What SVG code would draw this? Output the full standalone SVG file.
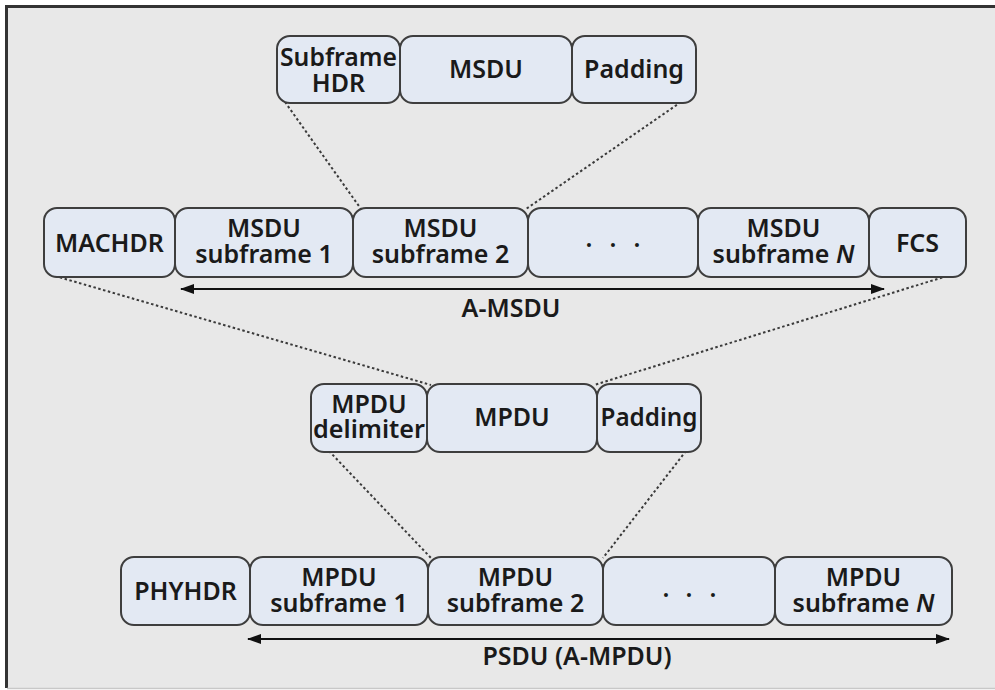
<svg xmlns="http://www.w3.org/2000/svg" width="995" height="690" viewBox="0 0 995 690">
<defs>
<style>
.bg{fill:#e8e8e8}
.box{fill:#e3e9f3;stroke:#3e3e3e;stroke-width:2}
.t{font-family:"Noto Sans","Liberation Sans",sans-serif;font-size:25px;font-weight:600;fill:#1a1a1a;text-anchor:middle}
.dot{stroke:#3a3a3a;stroke-width:2;stroke-dasharray:2.5 2.5;fill:none}
.arr{stroke:#111;stroke-width:2.2;fill:none;marker-start:url(#ah);marker-end:url(#ah)}
</style>
<marker id="ah" viewBox="0 0 14 10" refX="13" refY="5" markerWidth="14" markerHeight="10" markerUnits="userSpaceOnUse" orient="auto-start-reverse">
<path d="M0,0 L14,5 L0,10 Z" fill="#111"/>
</marker>
</defs>
<rect class="bg" x="7" y="7" width="990" height="681"/>
<line x1="7" y1="6.5" x2="995" y2="6.5" stroke="#333" stroke-width="3"/>
<line x1="6.5" y1="5" x2="6.5" y2="688" stroke="#333" stroke-width="3"/>
<line x1="7" y1="688.5" x2="995" y2="688.5" stroke="#c8c8c8" stroke-width="1.5"/>

<g id="connectors">
<line class="dot" x1="285" y1="102" x2="361" y2="209"/>
<line class="dot" x1="681" y1="102" x2="526" y2="209"/>
<line class="dot" x1="55" y1="276" x2="431" y2="385"/>
<line class="dot" x1="947" y1="276" x2="594" y2="385"/>
<line class="dot" x1="329" y1="451" x2="431" y2="558"/>
<line class="dot" x1="686" y1="451" x2="603" y2="558"/>
<line class="arr" x1="181" y1="289" x2="884" y2="289"/>
<line class="arr" x1="248" y1="639" x2="949" y2="639"/>
</g>

<g id="subframe-hdr"><rect class="box" x="277" y="36" width="123" height="67" rx="13"/><text class="t" x="338.5" y="66" textLength="117" lengthAdjust="spacingAndGlyphs">Subframe</text><text class="t" x="338.5" y="92">HDR</text></g>
<g id="msdu"><rect class="box" x="400" y="36" width="172" height="67" rx="13"/><text class="t" x="486" y="78">MSDU</text></g>
<g id="padding1"><rect class="box" x="572" y="36" width="124" height="67" rx="13"/><text class="t" x="634" y="78">Padding</text></g>

<g id="machdr"><rect class="box" x="44" y="208" width="131" height="69" rx="13"/><text class="t" x="109.5" y="252">MACHDR</text></g>
<g id="msdu-sf1"><rect class="box" x="175" y="208" width="178" height="69" rx="13"/><text class="t"><tspan x="264" y="237">MSDU</tspan><tspan x="264" y="263">subframe 1</tspan></text></g>
<g id="msdu-sf2"><rect class="box" x="353" y="208" width="175" height="69" rx="13"/><text class="t"><tspan x="440.5" y="237">MSDU</tspan><tspan x="440.5" y="263">subframe 2</tspan></text></g>
<g id="msdu-dots"><rect class="box" x="528" y="208" width="170" height="69" rx="13"/><text class="t" x="589 613 637" y="247">...</text></g>
<g id="msdu-sfn"><rect class="box" x="698" y="208" width="171" height="69" rx="13"/><text class="t"><tspan x="783.5" y="237">MSDU</tspan><tspan x="783.5" y="263">subframe <tspan font-style="italic">N</tspan></tspan></text></g>
<g id="fcs"><rect class="box" x="869" y="208" width="97" height="69" rx="13"/><text class="t" x="917.5" y="252">FCS</text></g>
<g id="a-msdu-label"><text class="t" x="511" y="317">A-MSDU</text></g>

<g id="mpdu-delim"><rect class="box" x="311" y="384" width="116" height="68" rx="13"/><text class="t" x="369" y="413">MPDU</text><text class="t" x="369" y="438" textLength="112" lengthAdjust="spacingAndGlyphs">delimiter</text></g>
<g id="mpdu"><rect class="box" x="427" y="384" width="170" height="68" rx="13"/><text class="t" x="512" y="426">MPDU</text></g>
<g id="padding2"><rect class="box" x="597" y="384" width="104" height="68" rx="13"/><text class="t" x="649" y="426" textLength="97" lengthAdjust="spacingAndGlyphs">Padding</text></g>

<g id="phyhdr"><rect class="box" x="121" y="557" width="129" height="68" rx="13"/><text class="t" x="185.5" y="600">PHYHDR</text></g>
<g id="mpdu-sf1"><rect class="box" x="250" y="557" width="178" height="68" rx="13"/><text class="t"><tspan x="339" y="586">MPDU</tspan><tspan x="339" y="612">subframe 1</tspan></text></g>
<g id="mpdu-sf2"><rect class="box" x="428" y="557" width="175" height="68" rx="13"/><text class="t"><tspan x="515.5" y="586">MPDU</tspan><tspan x="515.5" y="612">subframe 2</tspan></text></g>
<g id="mpdu-dots"><rect class="box" x="603" y="557" width="172" height="68" rx="13"/><text class="t" x="666 689 713" y="597">...</text></g>
<g id="mpdu-sfn"><rect class="box" x="775" y="557" width="177" height="68" rx="13"/><text class="t"><tspan x="863.5" y="586">MPDU</tspan><tspan x="863.5" y="612">subframe <tspan font-style="italic">N</tspan></tspan></text></g>
<g id="psdu-label"><text class="t" x="577" y="665">PSDU (A-MPDU)</text></g>
</svg>
